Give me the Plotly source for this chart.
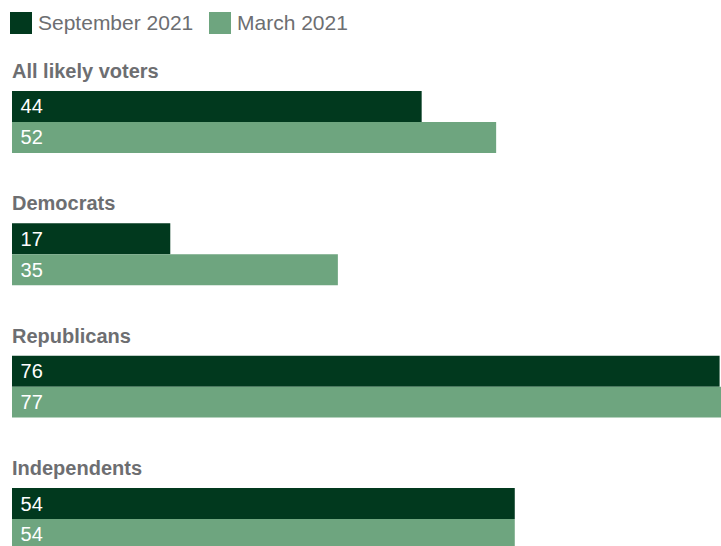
import plotly.graph_objects as go

categories = ["All likely voters", "Democrats", "Republicans", "Independents"]
series_names = ["September 2021", "March 2021"]
sep_2021 = [44, 17, 76, 54]
mar_2021 = [52, 35, 77, 54]
colors = ["#01391e", "#6ea57f"]

W, H = 721, 546
ML, MR, MT, MB = 12, 0, 60, 0
pw, ph = W - ML - MR, H - MT - MB


def px_x(p):
    return (p - ML) / pw


def px_y(p):
    return (H - MB - p) / ph


fig = go.Figure()
for name, vals, col in zip(series_names, [sep_2021, mar_2021], colors):
    fig.add_trace(go.Bar(
        y=categories, x=vals, orientation="h", name=name,
        marker=dict(color=col, line=dict(width=0)),
        text=vals, texttemplate=" %{x}", textposition="inside",
        insidetextanchor="start",
        textfont=dict(color="white", size=20, family="Liberation Sans, Arial"),
        showlegend=False, hoverinfo="skip",
    ))

annotations = []
for c in categories:
    annotations.append(dict(
        x=0, xref="paper", y=c, yref="y", xanchor="left", yanchor="middle",
        yshift=51, xshift=-2, text="<b>" + c + "</b>", showarrow=False,
        font=dict(size=20, color="#6d6e71", family="Liberation Sans, Arial"),
    ))

shapes = []
leg_x = [10, 209]
leg_tx = [36, 235]
for name, col, lx, tx in zip(series_names, colors, leg_x, leg_tx):
    shapes.append(dict(type="rect", xref="paper", yref="paper",
                       x0=px_x(lx), x1=px_x(lx + 22), y0=px_y(34), y1=px_y(12),
                       fillcolor=col, line=dict(width=0)))
    annotations.append(dict(
        x=px_x(tx), xref="paper", y=px_y(23), yref="paper",
        xanchor="left", yanchor="middle", text=name, showarrow=False,
        font=dict(size=21, color="#6d6e71", family="Liberation Sans, Arial"),
    ))

fig.update_layout(
    width=W, height=H,
    margin=dict(l=ML, r=MR, t=MT, b=MB, pad=0),
    paper_bgcolor="white", plot_bgcolor="white",
    barmode="group", bargap=0.532, bargroupgap=0,
    xaxis=dict(range=[0, 76.15], visible=False, fixedrange=True),
    yaxis=dict(categoryorder="array", categoryarray=categories,
               range=[3.204, -0.468], visible=False, fixedrange=True),
    annotations=annotations, shapes=shapes,
    uniformtext=dict(minsize=20, mode="show"),
)

fig.write_html("out.html", config={"displayModeBar": False})
